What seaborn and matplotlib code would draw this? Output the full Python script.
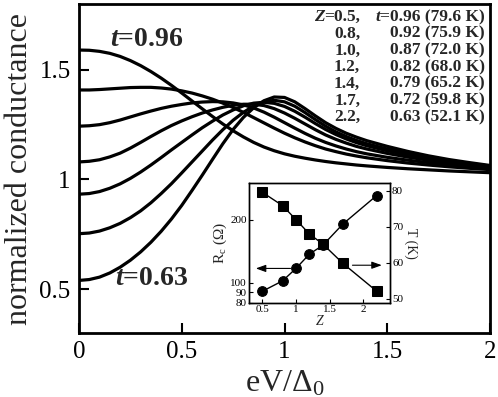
import numpy as np
import pandas as pd
import matplotlib
matplotlib.use("Agg")
import matplotlib.pyplot as plt
import seaborn as sns

# eV/Delta0 grid
bias = [0.0, 0.05, 0.1, 0.15, 0.2, 0.25, 0.3, 0.35, 0.4, 0.45, 0.5, 0.55, 0.6, 0.65,
        0.7, 0.75, 0.8, 0.85, 0.9, 0.95, 1.0, 1.05, 1.1, 1.15, 1.2, 1.25, 1.3, 1.35,
        1.4, 1.5, 1.6, 1.7, 1.8, 1.9, 2.0]

# normalized conductance, one list per Z
g_z05 = [1.59, 1.589, 1.584, 1.575, 1.561, 1.542, 1.519, 1.492, 1.462, 1.429, 1.394,
         1.358, 1.322, 1.287, 1.253, 1.222, 1.194, 1.169, 1.148, 1.131, 1.117, 1.106,
         1.097, 1.089, 1.082, 1.076, 1.071, 1.066, 1.062, 1.055, 1.049, 1.044, 1.039,
         1.035, 1.031]
g_z08 = [1.408, 1.408, 1.41, 1.413, 1.416, 1.419, 1.42, 1.42, 1.417, 1.412, 1.404,
         1.394, 1.381, 1.366, 1.348, 1.328, 1.306, 1.282, 1.258, 1.234, 1.211, 1.19,
         1.171, 1.154, 1.139, 1.127, 1.116, 1.107, 1.099, 1.086, 1.075, 1.066, 1.058,
         1.051, 1.045]
g_z10 = [1.243, 1.245, 1.25, 1.259, 1.271, 1.285, 1.299, 1.312, 1.324, 1.334, 1.342,
         1.349, 1.353, 1.355, 1.354, 1.349, 1.34, 1.326, 1.307, 1.284, 1.259, 1.234,
         1.21, 1.188, 1.169, 1.153, 1.139, 1.127, 1.117, 1.101, 1.088, 1.077, 1.067,
         1.058, 1.05]
g_z12 = [1.08, 1.083, 1.09, 1.103, 1.12, 1.143, 1.169, 1.196, 1.222, 1.246, 1.267,
         1.286, 1.303, 1.317, 1.329, 1.338, 1.343, 1.343, 1.337, 1.323, 1.303, 1.279,
         1.253, 1.227, 1.203, 1.183, 1.166, 1.151, 1.139, 1.119, 1.102, 1.088, 1.075,
         1.064, 1.054]
g_z14 = [0.933, 0.936, 0.945, 0.96, 0.98, 1.005, 1.034, 1.066, 1.10, 1.135, 1.169,
         1.203, 1.236, 1.266, 1.294, 1.317, 1.336, 1.348, 1.352, 1.347, 1.333, 1.311,
         1.284, 1.255, 1.228, 1.205, 1.185, 1.168, 1.154, 1.131, 1.112, 1.096, 1.082,
         1.07, 1.058]
g_z17 = [0.753, 0.756, 0.765, 0.78, 0.80, 0.826, 0.857, 0.894, 0.936, 0.981, 1.03,
         1.08, 1.13, 1.18, 1.227, 1.27, 1.306, 1.335, 1.354, 1.361, 1.354, 1.334,
         1.305, 1.273, 1.243, 1.217, 1.196, 1.178, 1.163, 1.139, 1.119, 1.101, 1.086,
         1.073, 1.061]
g_z22 = [0.54, 0.544, 0.555, 0.574, 0.60, 0.632, 0.67, 0.714, 0.764, 0.82, 0.882,
         0.95, 1.02, 1.092, 1.163, 1.228, 1.283, 1.327, 1.359, 1.376, 1.374, 1.354,
         1.323, 1.29, 1.259, 1.233, 1.211, 1.193, 1.177, 1.151, 1.128, 1.108, 1.091,
         1.077, 1.064]

# legend / inset values
z_values = [0.5, 0.8, 1.0, 1.2, 1.4, 1.7, 2.2]
t_reduced = ["0.96", "0.92", "0.87", "0.82", "0.79", "0.72", "0.63"]
t_kelvin = [79.6, 75.9, 72.0, 68.0, 65.2, 59.8, 52.1]
r_contact = [91, 102, 117, 137, 151, 191, 261]

sns.set_theme(style="ticks")
plt.rcParams["font.family"] = ["Liberation Serif", "DejaVu Serif"]
plt.rcParams["mathtext.fontset"] = "custom"
plt.rcParams["mathtext.rm"] = "Liberation Serif"
plt.rcParams["mathtext.it"] = "Liberation Serif:italic:bold"
plt.rcParams["mathtext.bf"] = "Liberation Serif:bold"
plt.rcParams["axes.edgecolor"] = "black"
plt.rcParams["xtick.color"] = "black"
plt.rcParams["ytick.color"] = "black"

curves = [g_z05, g_z08, g_z10, g_z12, g_z14, g_z17, g_z22]
df = pd.DataFrame({
    "bias": bias * len(curves),
    "G": sum(curves, []),
    "Z": np.repeat(z_values, len(bias)),
})

fig = plt.figure(figsize=(4.98, 3.97), dpi=100)
ax = fig.add_axes([0.1586, 0.161, 0.8254, 0.829])
sns.lineplot(data=df, x="bias", y="G", units="Z", estimator=None, color="black",
             lw=2.3, ax=ax, legend=False)

ax.set_xlim(0, 2)
ax.set_ylim(0.3, 1.8)
ax.set_xticks([0, 0.5, 1, 1.5, 2])
ax.set_xticklabels(["0", "0.5", "1", "1.5", "2"])
ax.set_yticks([0.5, 1, 1.5])
ax.set_yticklabels(["0.5", "1", "1.5"])
ax.tick_params(direction="in", length=7, width=1.5, labelsize=18, pad=6)
for sp in ax.spines.values():
    sp.set_linewidth(2)
ax.set_xlabel("eV/Δ$_0$", fontsize=23, labelpad=4)
ax.set_ylabel("normalized conductance", fontsize=23, labelpad=4)

ax.text(0.15, 1.636, "$t$=0.96", fontsize=20, fontweight="bold", va="center")
ax.text(0.175, 0.548, "$t$=0.63", fontsize=20, fontweight="bold", va="center")

# two right-aligned columns of the Z / t list, one row per curve
bold = dict(fontsize=12.5, fontweight="bold")
for i, (z, t, k) in enumerate(zip(z_values, t_reduced, t_kelvin)):
    y = (333 - (15 + i * 16.7)) / 329
    first = ax.text(0.684, y, ("=" if i == 0 else "") + f"{z},", transform=ax.transAxes,
                    ha="right", va="center_baseline", **bold)
    second = ax.text(0.988, y, ("=" if i == 0 else "") + f"{t} ({k} K)",
                     transform=ax.transAxes, ha="right", va="center_baseline", **bold)
    if i == 0:
        for sym, host in (("Z", first), ("t", second)):
            ax.annotate(sym, xy=(0, 0), xycoords=host, ha="right", va="bottom",
                        fontstyle="italic", **bold)

# inset: contact resistance and temperature vs Z
ax_in = fig.add_axes([0.5, 0.237, 0.283, 0.302])
ax_in.set_facecolor("white")
sns.lineplot(x=z_values, y=r_contact, ax=ax_in, color="black", lw=1, marker="o",
             markersize=7, markeredgecolor="black")
ax_in.set_yscale("log")
ax_in.set_ylim(80, 300)
ax_in.set_xlim(0.3, 2.4)
ax_in.yaxis.set_major_locator(matplotlib.ticker.FixedLocator([80, 90, 100, 200]))
ax_in.yaxis.set_major_formatter(matplotlib.ticker.FixedFormatter(["80", "90", "100", "200"]))
ax_in.yaxis.set_minor_locator(matplotlib.ticker.NullLocator())
ax_in.set_xticks([0.5, 1, 1.5, 2])
ax_in.set_xticklabels(["0.5", "1", "1.5", "2"])
ax_in.tick_params(direction="in", length=3, width=0.8, labelsize=8, pad=1.5)
ax_in.set_xlabel("Z", fontsize=10, fontstyle="italic", labelpad=1)
ax_in.set_ylabel("R$_\\mathrm{c}$ (Ω)", fontsize=11, labelpad=1)

ax_t = ax_in.twinx()
sns.lineplot(x=z_values, y=t_kelvin, ax=ax_t, color="black", lw=1, marker="s",
             markersize=7, markeredgecolor="black")
ax_t.set_ylim(48.8, 82.2)
ax_t.set_yticks([50, 60, 70, 80])
ax_t.tick_params(direction="in", length=3, width=0.8, labelsize=8, pad=1.5)
ax_t.set_ylabel("T (K)", fontsize=10, rotation=270, labelpad=10)
for a in (ax_in, ax_t):
    for sp in a.spines.values():
        sp.set_linewidth(1)

arrow = dict(arrowstyle="-|>,head_length=0.5,head_width=0.18", color="black", lw=0.8)
ax_in.annotate("", xy=(0.36, 117), xytext=(0.96, 117), arrowprops=arrow)
ax_t.annotate("", xy=(2.32, 59.3), xytext=(1.80, 59.3), arrowprops=arrow)

fig.savefig("out.png", dpi=100)
